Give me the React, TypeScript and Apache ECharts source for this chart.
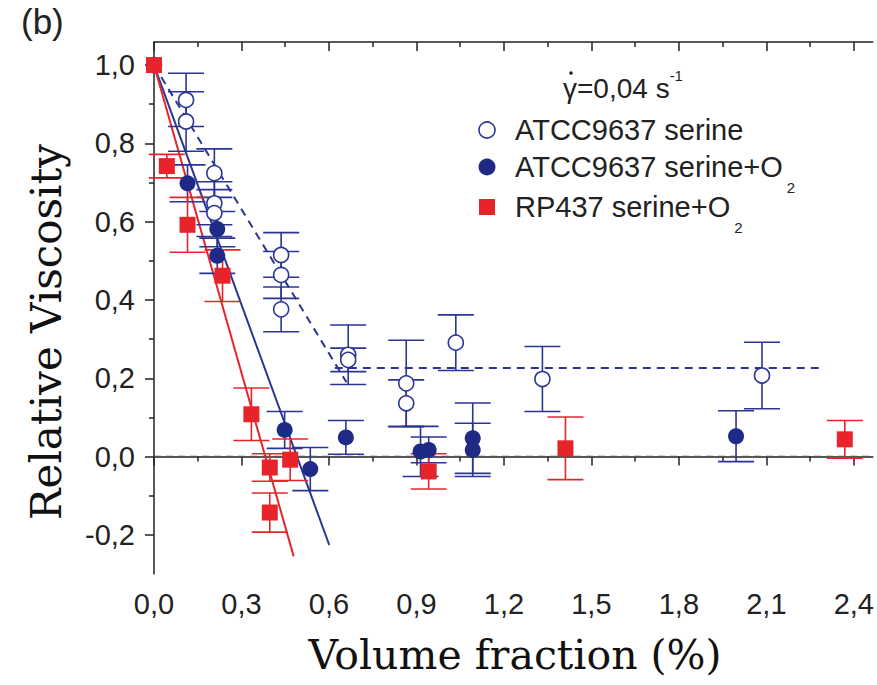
import React, { useEffect, useRef } from 'react';
import * as echarts from 'echarts';

// ---- data ----
const xTicks = [0, 0.3, 0.6, 0.9, 1.2, 1.5, 1.8, 2.1, 2.4];
const xMinorTicks = [0.15, 0.45, 0.75, 1.05, 1.35, 1.65, 1.95, 2.25];
const yTicks = [-0.2, 0, 0.2, 0.4, 0.6, 0.8, 1.0];
const yMinorTicks = [-0.1, 0.1, 0.3, 0.5, 0.7, 0.9];

// [volume fraction, relative viscosity, error]
const serineOpen = [
  [0, 1.0, 0],
  [0.11, 0.911, 0.068],
  [0.11, 0.856, 0.076],
  [0.207, 0.724, 0.062],
  [0.207, 0.647, 0.055],
  [0.207, 0.622, 0.06],
  [0.436, 0.515, 0.057],
  [0.436, 0.464, 0.06],
  [0.436, 0.376, 0.057],
  [0.666, 0.26, 0.076],
  [0.666, 0.247, 0.03],
  [0.865, 0.187, 0.11],
  [0.865, 0.136, 0.06],
  [1.035, 0.291, 0.071],
  [1.332, 0.198, 0.083],
  [2.085, 0.207, 0.085],
];
const serineO2 = [
  [0, 1.0, 0],
  [0.115, 0.698, 0.047],
  [0.217, 0.581, 0.045],
  [0.217, 0.513, 0.045],
  [0.448, 0.068, 0.047],
  [0.536, -0.032, 0.055],
  [0.658, 0.049, 0.043],
  [0.914, 0.013, 0.064],
  [0.942, 0.017, 0.033],
  [1.093, 0.047, 0.09],
  [1.093, 0.017, 0.068],
  [1.996, 0.052, 0.065],
];
const rp437O2 = [
  [0, 1.0, 0],
  [0.044, 0.742, 0.03],
  [0.115, 0.592, 0.07],
  [0.235, 0.462, 0.066],
  [0.334, 0.108, 0.067],
  [0.397, -0.028, 0.035],
  [0.397, -0.143, 0.05],
  [0.467, -0.008, 0.053],
  [0.942, -0.038, 0.045],
  [1.411, 0.021, 0.08],
  [2.369, 0.044, 0.048],
];
// fit lines
const fitRed = [[0, 1.0], [0.479, -0.255]];
const fitBlue = [[0, 1.0], [0.601, -0.226]];
const fitDashDiag = [[0, 1.0], [0.66, 0.19]];
const fitDashFlat = [[0.62, 0.226], [2.3, 0.226]];
const zeroLine = [[0, 0], [2.465, 0]];

const BLUE = '#2B3594';
const BLUE_DARK = '#1F2A86';
const RED = '#E8242B';
const AX = '#222';
const SANS = 'Liberation Sans, Arial, sans-serif';
const SERIF = 'DejaVu Serif, serif';

const errRender = (color: string) => (params: any, api: any) => {
  const x = api.value(0);
  const y = api.value(1);
  const e = api.value(2);
  if (!e) return null;
  const top = api.coord([x, y + e]);
  const bot = api.coord([x, y - e]);
  const h = 18;
  const style = { stroke: color, lineWidth: 1.6, fill: null };
  return {
    type: 'group',
    children: [
      { type: 'line', shape: { x1: top[0], y1: top[1], x2: bot[0], y2: bot[1] }, style },
      { type: 'line', shape: { x1: top[0] - h, y1: top[1], x2: top[0] + h, y2: top[1] }, style },
      { type: 'line', shape: { x1: bot[0] - h, y1: bot[1], x2: bot[0] + h, y2: bot[1] }, style },
    ],
  };
};

const fmt = (v: number) => (Math.abs(v) < 1e-9 ? 0 : v).toFixed(1).replace('.', ',');

export default function App() {
  const ref = useRef<HTMLDivElement>(null);
  useEffect(() => {
    if (!ref.current) return;
    const chart = echarts.init(ref.current, undefined, { renderer: 'svg' });
    const XMIN = 0, XMAX = 2.465, YMIN = -0.3, YMAX = 1.059;
    const baseX = { type: 'value', min: XMIN, max: XMAX, interval: 0.3, splitLine: { show: false }, gridIndex: 0 };
    const baseY = { type: 'value', min: YMIN, max: YMAX, interval: 0.1, splitLine: { show: false }, gridIndex: 0 };
    const option: any = {
      animation: false,
      backgroundColor: '#fff',
      grid: { left: 154, right: 0, top: 42, bottom: 111, containLabel: false },
      xAxis: [
        {
          ...baseX,
          position: 'bottom',
          axisLine: { show: true, lineStyle: { color: AX, width: 1.5 } },
          axisTick: { show: true, inside: false, length: 9, customValues: xTicks, lineStyle: { color: AX, width: 1.5 } },
          axisLabel: { show: true, customValues: xTicks, formatter: fmt, margin: 15, fontSize: 29, fontFamily: SANS, color: '#222' },
        },
        {
          ...baseX,
          position: 'bottom',
          axisLine: { show: false },
          axisTick: { show: true, inside: false, length: 5, customValues: xMinorTicks, lineStyle: { color: AX, width: 1.5 } },
          axisLabel: { show: false },
        },
        {
          ...baseX,
          position: 'top',
          axisLine: { show: true, lineStyle: { color: AX, width: 1.5 } },
          axisTick: { show: true, inside: true, length: 9, customValues: xTicks, lineStyle: { color: AX, width: 1.5 } },
          axisLabel: { show: false },
        },
        {
          ...baseX,
          position: 'top',
          axisLine: { show: false },
          axisTick: { show: true, inside: true, length: 5, customValues: xMinorTicks, lineStyle: { color: AX, width: 1.5 } },
          axisLabel: { show: false },
        },
      ],
      yAxis: [
        {
          ...baseY,
          position: 'left',
          axisLine: { show: true, onZero: false, lineStyle: { color: AX, width: 1.5 } },
          axisTick: { show: true, inside: false, length: 9, customValues: yTicks, lineStyle: { color: AX, width: 1.5 } },
          axisLabel: { show: true, customValues: yTicks, formatter: fmt, margin: 19, fontSize: 29, fontFamily: SANS, color: '#222' },
        },
        {
          ...baseY,
          position: 'left',
          axisLine: { show: false, onZero: false },
          axisTick: { show: true, inside: false, length: 5, customValues: yMinorTicks, lineStyle: { color: AX, width: 1.5 } },
          axisLabel: { show: false },
        },
      ],
      series: [
        { type: 'line', data: zeroLine, symbol: 'none', lineStyle: { color: '#555', width: 1.5, type: [7, 5] }, z: 1 },
        { type: 'line', data: fitDashDiag, symbol: 'none', lineStyle: { color: BLUE, width: 2, type: [8, 6] }, z: 2 },
        { type: 'line', data: fitDashFlat, symbol: 'none', lineStyle: { color: BLUE, width: 2, type: [8, 6] }, z: 2 },
        { type: 'line', data: fitBlue, symbol: 'none', lineStyle: { color: BLUE, width: 2 }, z: 2 },
        { type: 'line', data: fitRed, symbol: 'none', lineStyle: { color: RED, width: 2 }, z: 2 },
        { type: 'custom', name: 'err-open', data: serineOpen, renderItem: errRender(BLUE), encode: { x: 0, y: 1 }, z: 3 },
        { type: 'custom', name: 'err-filled', data: serineO2, renderItem: errRender(BLUE), encode: { x: 0, y: 1 }, z: 3 },
        { type: 'custom', name: 'err-red', data: rp437O2, renderItem: errRender(RED), encode: { x: 0, y: 1 }, z: 3 },
        {
          type: 'scatter', name: 'ATCC9637 serine', data: serineOpen, symbol: 'circle', symbolSize: 15,
          itemStyle: { color: '#fff', borderColor: BLUE, borderWidth: 1.6, opacity: 1 }, encode: { x: 0, y: 1 }, z: 4,
        },
        {
          type: 'scatter', name: 'ATCC9637 serine+O2', data: serineO2, symbol: 'circle', symbolSize: 16,
          itemStyle: { color: BLUE_DARK, opacity: 1 }, encode: { x: 0, y: 1 }, z: 5,
        },
        {
          type: 'scatter', name: 'RP437 serine+O2', data: rp437O2, symbol: 'rect', symbolSize: 16,
          itemStyle: { color: RED, opacity: 1 }, encode: { x: 0, y: 1 }, z: 6,
        },
      ],
      graphic: [
        { type: 'text', left: 21, top: 4, style: { text: '(b)', font: `35px ${SANS}`, fill: '#222' } },
        {
          type: 'text', x: 46, y: 332, rotation: Math.PI / 2,
          style: { text: 'Relative Viscosity', font: `42px ${SERIF}`, fill: '#111', align: 'center', verticalAlign: 'middle' },
        },
        {
          type: 'text', x: 515, y: 655,
          style: { text: 'Volume fraction (%)', font: `41px ${SERIF}`, fill: '#111', align: 'center', verticalAlign: 'middle' },
        },
        {
          type: 'text', x: 563, y: 88,
          style: {
            text: '{a|γ=0,04 s}{b|-1}',
            align: 'left', verticalAlign: 'middle',
            rich: {
              a: { font: `28px ${SANS}`, fill: '#222', lineHeight: 40, verticalAlign: 'middle' },
              b: { font: `15px ${SANS}`, fill: '#222', lineHeight: 40, verticalAlign: 'top' },
            },
          },
        },
        { type: 'circle', shape: { cx: 571, cy: 73, r: 1.8 }, style: { fill: '#222' } },
        { type: 'circle', shape: { cx: 487, cy: 130, r: 8 }, style: { fill: '#fff', stroke: BLUE, lineWidth: 1.6 } },
        { type: 'circle', shape: { cx: 487, cy: 167, r: 8.5 }, style: { fill: BLUE_DARK } },
        { type: 'rect', shape: { x: 479, y: 199, width: 16, height: 16 }, style: { fill: RED } },
        {
          type: 'text', x: 515, y: 130,
          style: { text: 'ATCC9637 serine', font: `29px ${SANS}`, fill: '#222', align: 'left', verticalAlign: 'middle' },
        },
        {
          type: 'text', x: 515, y: 167,
          style: {
            text: '{a|ATCC9637 serine+O}{s|2}', align: 'left', verticalAlign: 'middle',
            rich: {
              a: { font: `29px ${SANS}`, fill: '#222', lineHeight: 56, verticalAlign: 'middle' },
              s: { font: `15px ${SANS}`, fill: '#222', lineHeight: 56, verticalAlign: 'bottom', padding: [0, 0, 0, 4] },
            },
          },
        },
        {
          type: 'text', x: 515, y: 207,
          style: {
            text: '{a|RP437 serine+O}{s|2}', align: 'left', verticalAlign: 'middle',
            rich: {
              a: { font: `29px ${SANS}`, fill: '#222', lineHeight: 56, verticalAlign: 'middle' },
              s: { font: `15px ${SANS}`, fill: '#222', lineHeight: 56, verticalAlign: 'bottom', padding: [0, 0, 0, 4] },
            },
          },
        },
      ],
    };
    chart.setOption(option);
    return () => chart.dispose();
  }, []);
  return (
    <div
      ref={ref}
      style={{ position: 'fixed', left: 0, top: 0, width: 877, height: 685, background: '#fff' }}
    />
  );
}
